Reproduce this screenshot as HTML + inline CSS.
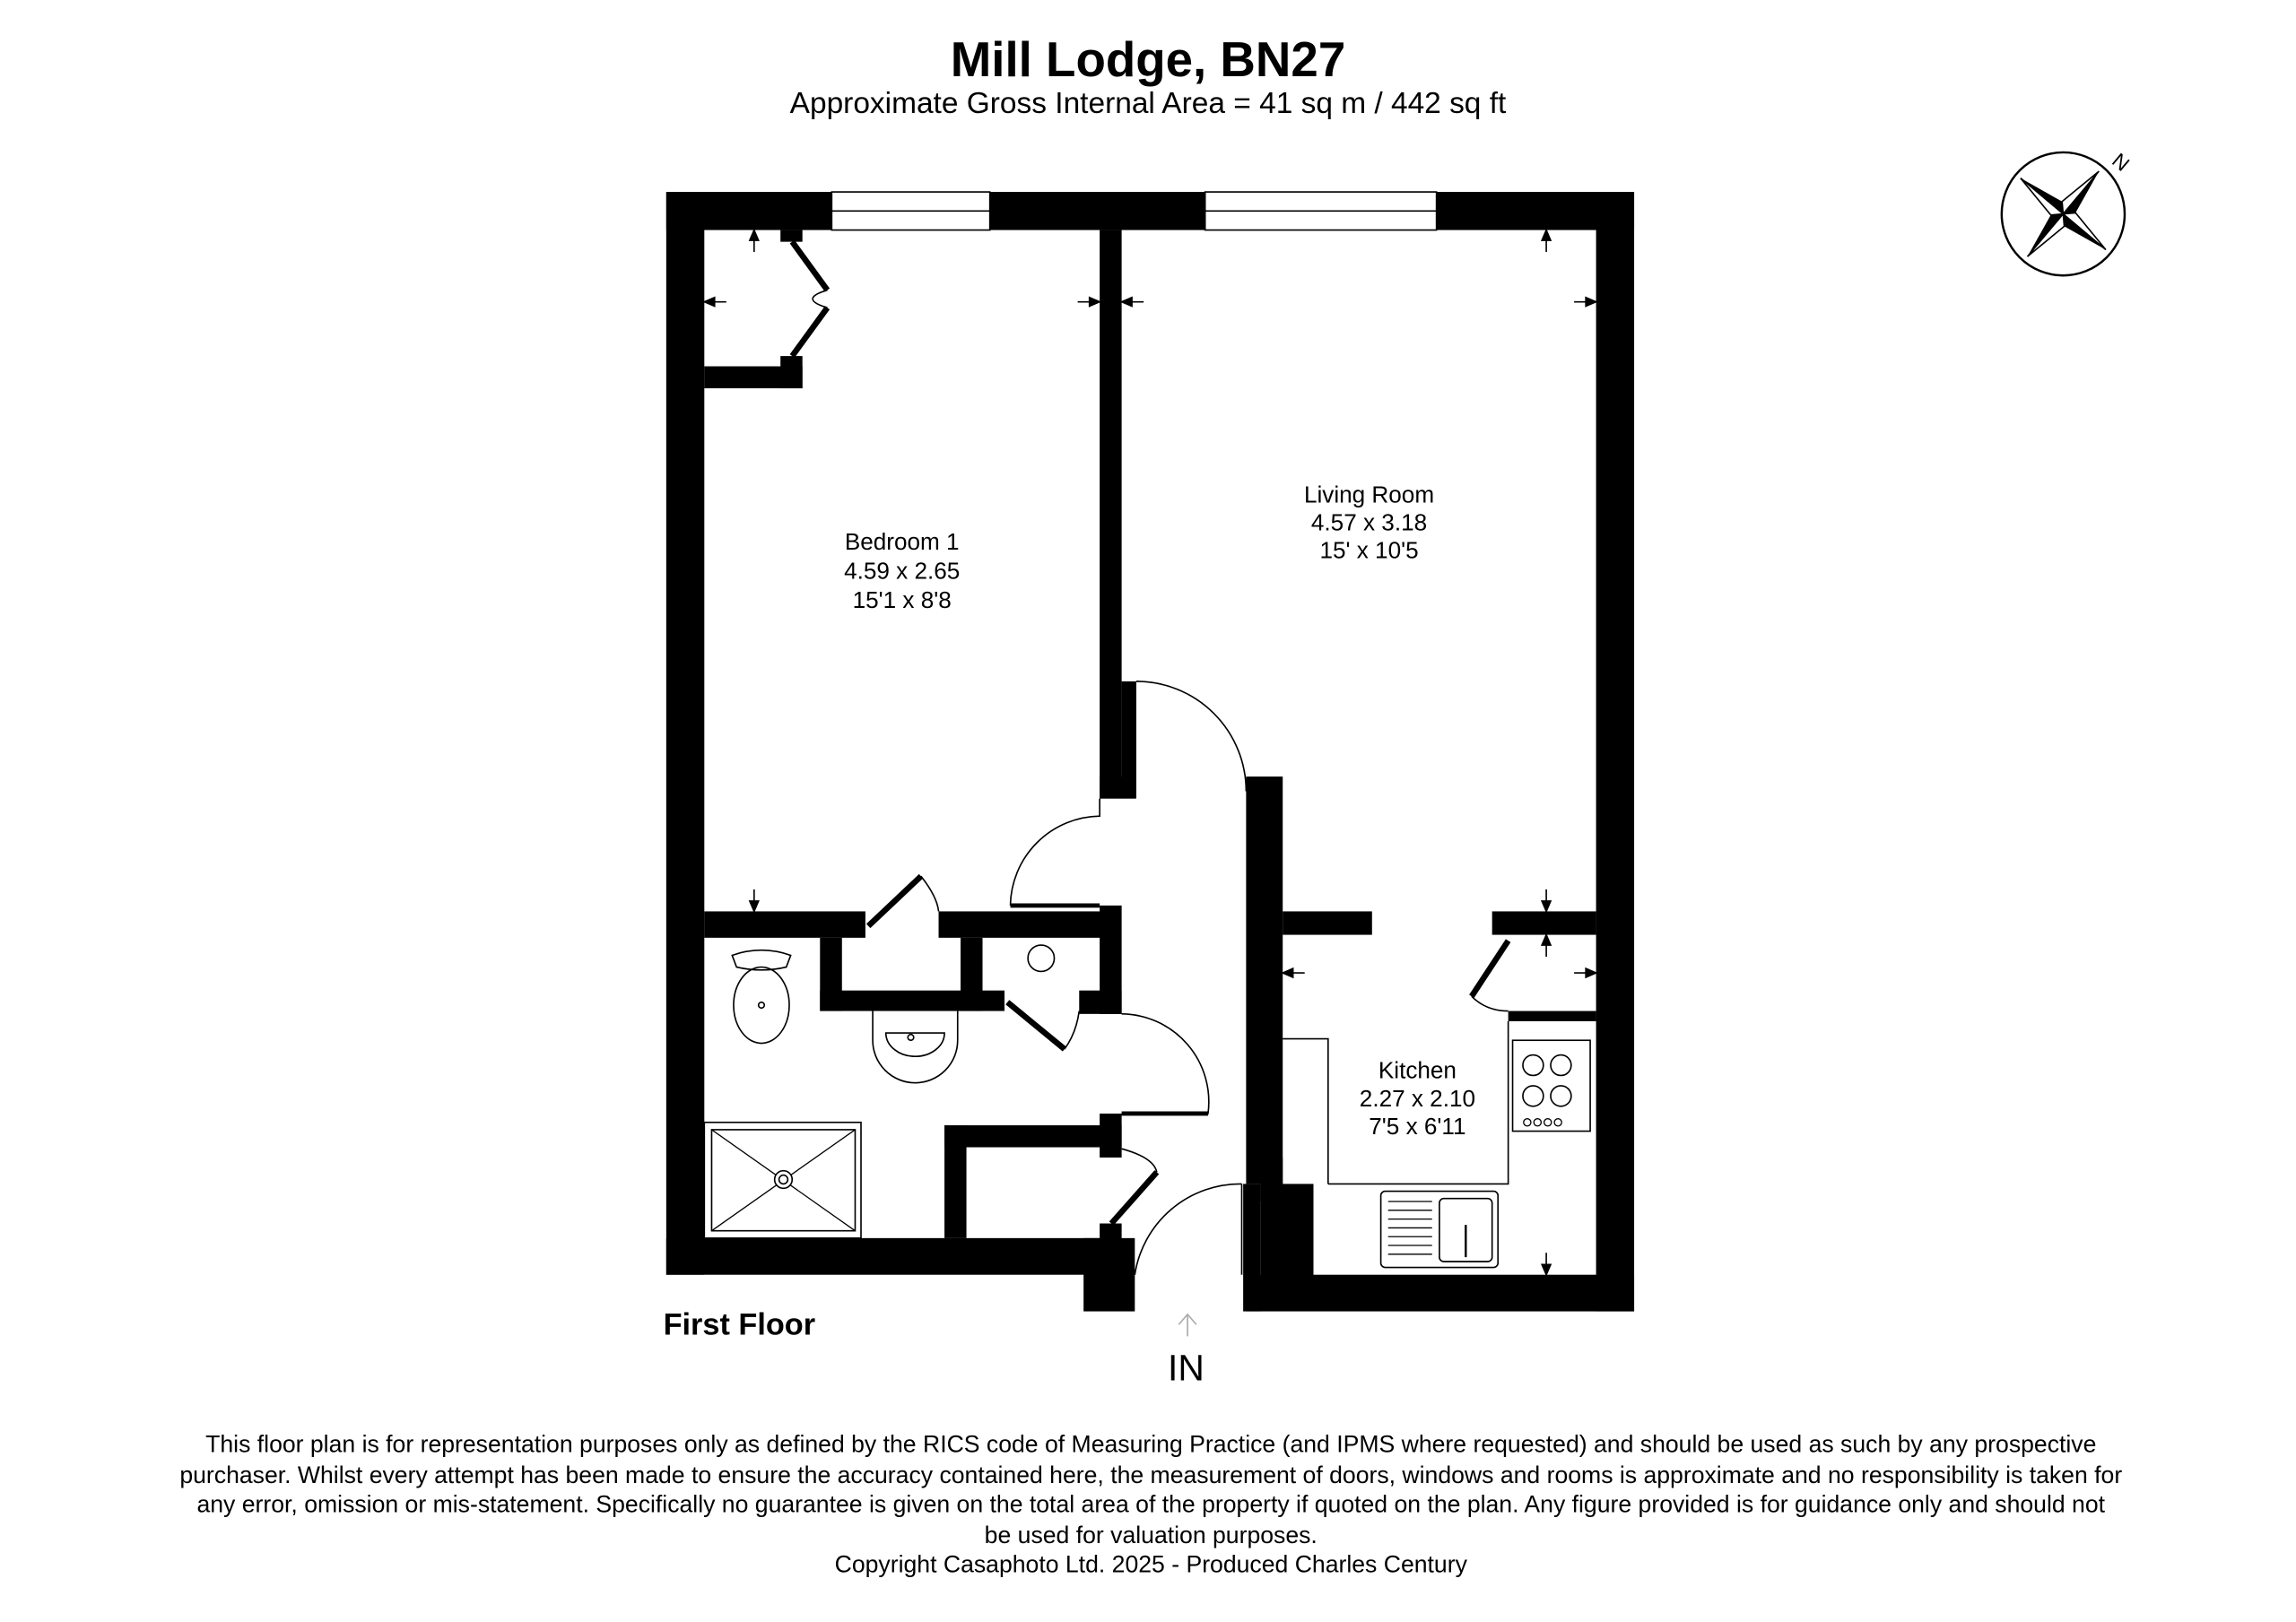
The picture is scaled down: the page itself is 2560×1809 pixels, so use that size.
<!DOCTYPE html>
<html><head><meta charset="utf-8"><style>
html,body{margin:0;padding:0;background:#fff}
svg{display:block}
text{font-family:"Liberation Sans",Arial,sans-serif;fill:#000}
</style></head><body>
<svg width="2560" height="1809" viewBox="0 0 1568 1107" preserveAspectRatio="none" xmlns="http://www.w3.org/2000/svg">
<rect width="1568" height="1107" fill="#fff"/>
<text x="784" y="52" font-size="33.5" font-weight="bold" text-anchor="middle">Mill Lodge, BN27</text>
<text x="784" y="77" font-size="20.5" text-anchor="middle">Approximate Gross Internal Area = 41 sq m / 442 sq ft</text>

<!-- compass -->
<g transform="translate(1409,146)">
<circle r="42" fill="none" stroke="#000" stroke-width="1.5"/>
<g transform="rotate(40)">
<polygon points="0,-38 6,-6 0,0" fill="#000"/><polygon points="0,-38 -6,-6 0,0" fill="#fff" stroke="#000"/>
<polygon points="0,38 -6,6 0,0" fill="#000"/><polygon points="0,38 6,6 0,0" fill="#fff" stroke="#000"/>
<polygon points="38,0 6,6 0,0" fill="#000"/><polygon points="38,0 6,-6 0,0" fill="#fff" stroke="#000"/>
<polygon points="-38,0 -6,-6 0,0" fill="#000"/><polygon points="-38,0 -6,6 0,0" fill="#fff" stroke="#000"/>
</g>
<text x="35" y="-34" font-size="14" font-family="Liberation Serif" transform="rotate(40 35 -38)">N</text>
</g>

<g fill="#000">
<rect x="455" y="131" width="661" height="26"/>
<rect x="455" y="131" width="26" height="739"/>
<rect x="1090" y="131" width="26" height="764"/>
<rect x="455" y="845" width="311" height="25"/>
<rect x="740" y="845" width="35" height="50"/>
<rect x="851" y="870" width="265" height="25"/>
<rect x="849" y="808" width="12" height="87"/>
<rect x="861" y="808" width="36" height="65"/>
<rect x="751" y="157" width="15" height="388"/>
<rect x="751" y="530" width="24" height="15"/>
<rect x="766" y="465" width="10" height="80"/>
<rect x="481" y="250" width="67" height="15"/>
<rect x="533" y="243" width="15" height="22"/>
<rect x="533" y="157" width="15" height="8"/>
<rect x="481" y="622" width="110" height="18"/>
<rect x="641" y="622" width="113" height="18"/>
<rect x="751" y="618" width="15" height="74"/>
<rect x="560" y="640" width="15" height="50"/>
<rect x="560" y="676" width="126" height="14"/>
<rect x="656" y="640" width="15" height="50"/>
<rect x="737" y="676" width="29" height="16"/>
<rect x="645" y="768" width="121" height="15"/>
<rect x="645" y="768" width="15" height="77"/>
<rect x="751" y="760" width="15" height="30"/>
<rect x="751" y="835" width="15" height="35"/>
<rect x="851" y="530" width="25" height="278"/>
<rect x="861" y="790" width="15" height="30"/>
<rect x="876" y="622" width="61" height="16"/>
<rect x="1019" y="622" width="71" height="16"/>
<rect x="1030" y="690" width="60" height="7"/>
</g>

<g fill="#fff" stroke="#000" stroke-width="1">
<rect x="568" y="131" width="108" height="26"/><line x1="568" y1="144" x2="676" y2="144"/>
<rect x="823" y="131" width="158" height="26"/><line x1="823" y1="144" x2="981" y2="144"/>
</g>

<g fill="none" stroke="#000">
<path d="M541 165 L565 198" stroke-width="4"/>
<path d="M541 243 L565 210" stroke-width="4"/>
<path d="M565 198 Q545 204 565 210" stroke-width="1"/>
<path d="M776 465 A 75 75 0 0 1 851 540" stroke-width="1"/>
<path d="M690 618 A 62 62 0 0 1 751 557 L751 545" stroke-width="1"/>
<line x1="690" y1="618" x2="751" y2="618" stroke-width="3"/>
<line x1="593" y1="632" x2="629" y2="598" stroke-width="4"/>
<path d="M629 598 Q640 612 641 622" stroke-width="1"/>
<line x1="688" y1="684" x2="727" y2="716" stroke-width="4"/>
<path d="M727 716 Q735 705 737 690" stroke-width="1"/>
<path d="M766 692 A 60 60 0 0 1 825 760 L766 760" stroke-width="1"/>
<line x1="766" y1="760" x2="825" y2="760" stroke-width="3"/>
<line x1="759" y1="835" x2="790" y2="800" stroke-width="4"/>
<path d="M766 784 Q788 790 790 800" stroke-width="1"/>
<path d="M775 870 A 73 73 0 0 1 848 808" stroke-width="1"/>
<line x1="848" y1="808" x2="848" y2="870" stroke-width="1"/>
<line x1="1005" y1="680" x2="1030" y2="642" stroke-width="4"/>
<path d="M1005 680 Q1015 690 1030 690" stroke-width="1"/>
<rect x="481" y="766" width="107" height="79" stroke-width="1"/>
<rect x="486" y="771" width="98" height="69" stroke-width="1"/>
<line x1="486" y1="771" x2="584" y2="840" stroke-width="0.8"/><line x1="584" y1="771" x2="486" y2="840" stroke-width="0.8"/>
<circle cx="535" cy="805" r="6" fill="#fff" stroke-width="1"/><circle cx="535" cy="805" r="3" stroke-width="1"/>
<path d="M500 652 Q520 645 540 652 L537 660 Q520 664 503 660 Z" stroke-width="1"/>
<ellipse cx="520" cy="686" rx="19" ry="26" stroke-width="1"/>
<circle cx="520" cy="686" r="2" stroke-width="1"/>
<path d="M596 690 L596 710 A 29 29 0 0 0 654 710 L654 690" stroke-width="1"/>
<path d="M605 705 A 20 16 0 0 0 645 705 Z" stroke-width="1"/>
<circle cx="622" cy="708" r="2" stroke-width="1"/>
<circle cx="711" cy="654" r="9" stroke-width="1"/>
<polyline points="876,709 907,709 907,808" stroke-width="1"/>
<polyline points="907,808 1030,808 1030,697" stroke-width="1"/>
<rect x="1033" y="710" width="53" height="62" stroke-width="1"/>
<circle cx="1047" cy="727" r="7" stroke-width="1"/><circle cx="1066" cy="727" r="7" stroke-width="1"/>
<circle cx="1047" cy="748" r="7" stroke-width="1"/><circle cx="1066" cy="748" r="7" stroke-width="1"/>
<circle cx="1043" cy="766" r="2.5" stroke-width="0.8"/><circle cx="1050" cy="766" r="2.5" stroke-width="0.8"/><circle cx="1057" cy="766" r="2.5" stroke-width="0.8"/><circle cx="1064" cy="766" r="2.5" stroke-width="0.8"/>
<rect x="943" y="813" width="80" height="52" rx="3" stroke-width="1"/>
<rect x="983" y="818" width="36" height="43" rx="3" stroke-width="1"/>
<g stroke-width="0.8"><line x1="948" y1="820" x2="978" y2="820"/><line x1="948" y1="826" x2="978" y2="826"/><line x1="948" y1="832" x2="978" y2="832"/><line x1="948" y1="838" x2="978" y2="838"/><line x1="948" y1="844" x2="978" y2="844"/><line x1="948" y1="850" x2="978" y2="850"/><line x1="948" y1="856" x2="978" y2="856"/></g>
<line x1="1001" y1="836" x2="1001" y2="858" stroke-width="1.5"/>
<path d="M811 912 L811 898 M805 904 L811 897 L817 904" stroke="#aaa" stroke-width="1"/>
</g>

<g stroke="#000" stroke-width="1" fill="#000">
<line x1="515" y1="157" x2="515" y2="172"/><polygon points="515,157 512,164 518,164"/>
<line x1="481" y1="206" x2="496" y2="206"/><polygon points="481,206 488,203 488,209"/>
<line x1="736" y1="206" x2="751" y2="206"/><polygon points="751,206 744,203 744,209"/>
<line x1="766" y1="206" x2="781" y2="206"/><polygon points="766,206 773,203 773,209"/>
<line x1="1075" y1="206" x2="1090" y2="206"/><polygon points="1090,206 1083,203 1083,209"/>
<line x1="1056" y1="157" x2="1056" y2="172"/><polygon points="1056,157 1053,164 1059,164"/>
<line x1="515" y1="607" x2="515" y2="622"/><polygon points="515,622 512,615 518,615"/>
<line x1="1056" y1="607" x2="1056" y2="622"/><polygon points="1056,622 1053,615 1059,615"/>
<line x1="1056" y1="638" x2="1056" y2="653"/><polygon points="1056,638 1053,645 1059,645"/>
<line x1="876" y1="664" x2="891" y2="664"/><polygon points="876,664 883,661 883,667"/>
<line x1="1075" y1="664" x2="1090" y2="664"/><polygon points="1090,664 1083,661 1083,667"/>
<line x1="1056" y1="855" x2="1056" y2="870"/><polygon points="1056,870 1053,863 1059,863"/>
</g>

<g font-size="16" text-anchor="middle">
<text x="616" y="375">Bedroom 1</text><text x="616" y="395">4.59 x 2.65</text><text x="616" y="415">15'1 x 8'8</text>
<text x="935" y="343">Living Room</text><text x="935" y="362">4.57 x 3.18</text><text x="935" y="381">15' x 10'5</text>
<text x="968" y="736">Kitchen</text><text x="968" y="755">2.27 x 2.10</text><text x="968" y="774">7'5 x 6'11</text>
</g>
<text x="453" y="911" font-size="21" font-weight="bold">First Floor</text>
<text x="810" y="942" font-size="25" text-anchor="middle">IN</text>

<g font-size="16.3" text-anchor="middle">
<text x="786" y="991">This floor plan is for representation purposes only as defined by the RICS code of Measuring Practice (and IPMS where requested) and should be used as such by any prospective</text>
<text x="786" y="1012">purchaser. Whilst every attempt has been made to ensure the accuracy contained here, the measurement of doors, windows and rooms is approximate and no responsibility is taken for</text>
<text x="786" y="1032">any error, omission or mis-statement. Specifically no guarantee is given on the total area of the property if quoted on the plan. Any figure provided is for guidance only and should not</text>
<text x="786" y="1053">be used for valuation purposes.</text>
<text x="786" y="1073">Copyright Casaphoto Ltd. 2025 - Produced Charles Century</text>
</g>
</svg>
</body></html>
